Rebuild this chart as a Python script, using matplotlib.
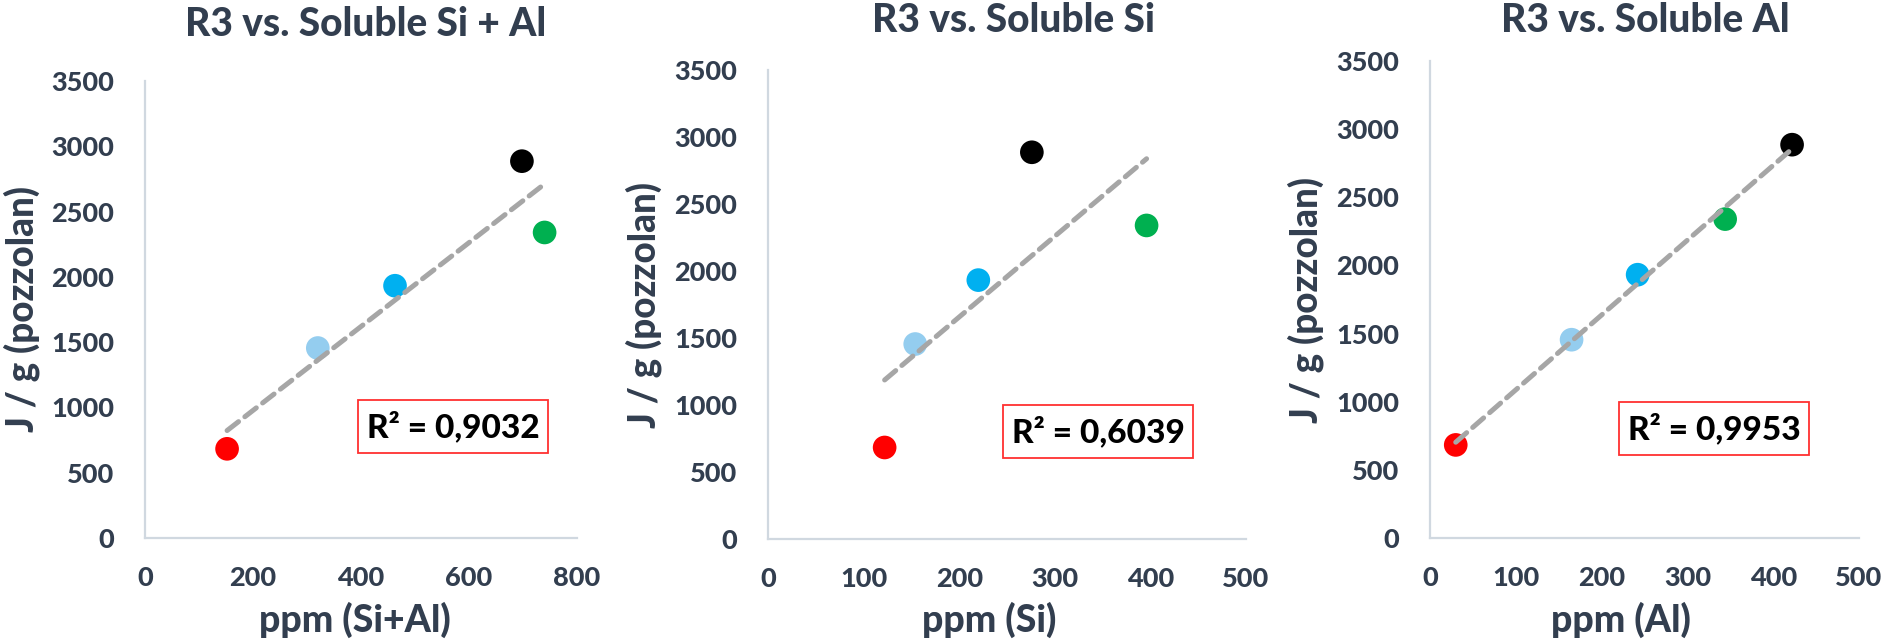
import numpy as np
import matplotlib
matplotlib.use("Agg")
import matplotlib.pyplot as plt
from matplotlib.patches import Rectangle

plt.rcParams['font.family'] = ['Lato', 'DejaVu Sans']

# Heat release (J/g pozzolan) for the five materials
heat = [683, 1455, 1932, 2886, 2340]
colors = ['#FF0000', '#94CDEF', '#00B0F0', '#000000', '#00B050']

# Soluble concentrations (ppm)
si_al = [152, 320, 463, 698, 740]
si = [122, 154, 220, 276, 396]
al = [30, 165, 242, 422, 344]

titles = ['R3 vs. Soluble Si + Al', 'R3 vs. Soluble Si', 'R3 vs. Soluble Al']
xlabels = ['ppm (Si+Al)', 'ppm (Si)', 'ppm (Al)']
r2_labels = ['R² = 0,9032', 'R² = 0,6039', 'R² = 0,9953']
xmax = [800, 500, 500]
xticks = [[0, 200, 400, 600, 800], [0, 100, 200, 300, 400, 500], [0, 100, 200, 300, 400, 500]]
yticks = [0, 500, 1000, 1500, 2000, 2500, 3000, 3500]

W, H = 1889, 642
TXT = '#323E4F'
AXC = '#D0D8E0'
WT = 900

fig = plt.figure(figsize=(W / 100, H / 100), dpi=100)

# panel geometry in pixels: left, right, top, bottom
boxes = [(145, 577, 81, 538), (768, 1246, 70, 539), (1430, 1859, 61, 538)]
title_pos = [(366, 25), (1013, 21), (1645, 20)]
ylabel_x = [22, 644, 1306]
xlabel_x = [355, 989, 1621]
xlabel_y = 620
r2_box = [(358, 400, 548, 453), (1003, 405, 1193, 458), (1619, 402, 1809, 455)]


def fx(px):
    return px / W


def fy(py):
    return 1 - py / H


xs_all = [si_al, si, al]
for i in range(3):
    l, r, t, b = boxes[i]
    ax = fig.add_axes([fx(l), fy(b), (r - l) / W, (b - t) / H])
    x = np.array(xs_all[i], dtype=float)
    y = np.array(heat, dtype=float)
    ax.scatter(x, y, s=290, c=colors, edgecolors='none', zorder=3)
    k, c0 = np.polyfit(x, y, 1)
    xx = np.array([x.min(), x.max()])
    ax.plot(xx, k * xx + c0, color='#A6A6A6', lw=3.6, dashes=(2.9, 1.6),
            dash_capstyle='round', zorder=4)
    ax.set_xlim(0, xmax[i])
    ax.set_ylim(0, 3500)
    ax.set_xticks(xticks[i])
    ax.set_yticks(yticks)
    for s in ['top', 'right']:
        ax.spines[s].set_visible(False)
    for s in ['left', 'bottom']:
        ax.spines[s].set_color(AXC)
        ax.spines[s].set_linewidth(1.6)
    ax.tick_params(length=0, labelsize=19.5, labelcolor=TXT)
    ax.tick_params(axis='y', pad=22)
    ax.tick_params(axis='x', pad=20)
    for lab in ax.get_xticklabels() + ax.get_yticklabels():
        lab.set_fontweight(WT)
    ax.set_facecolor('none')

    tx, ty = title_pos[i]
    fig.text(fx(tx), fy(ty), titles[i], ha='center', va='center',
             fontsize=28, fontweight=WT, color=TXT)
    fig.text(fx(xlabel_x[i]), fy(xlabel_y), xlabels[i], ha='center', va='center',
             fontsize=27, fontweight=WT, color=TXT)
    fig.text(fx(ylabel_x[i]), fy((t + b) / 2), 'J / g (pozzolan)', ha='center', va='center',
             rotation=90, fontsize=26.5, fontweight=WT, color=TXT)

    x0, y0, x1, y1 = r2_box[i]
    fig.add_artist(Rectangle((fx(x0), fy(y1)), (x1 - x0) / W, (y1 - y0) / H,
                             transform=fig.transFigure, facecolor='white',
                             edgecolor='#FF3030', lw=1.3, zorder=5))
    fig.text(fx((x0 + x1) / 2), fy((y0 + y1) / 2), r2_labels[i], ha='center', va='center',
             fontsize=24, fontweight=WT, color='black', zorder=6)

fig.savefig('out.png', dpi=100, facecolor='white')
